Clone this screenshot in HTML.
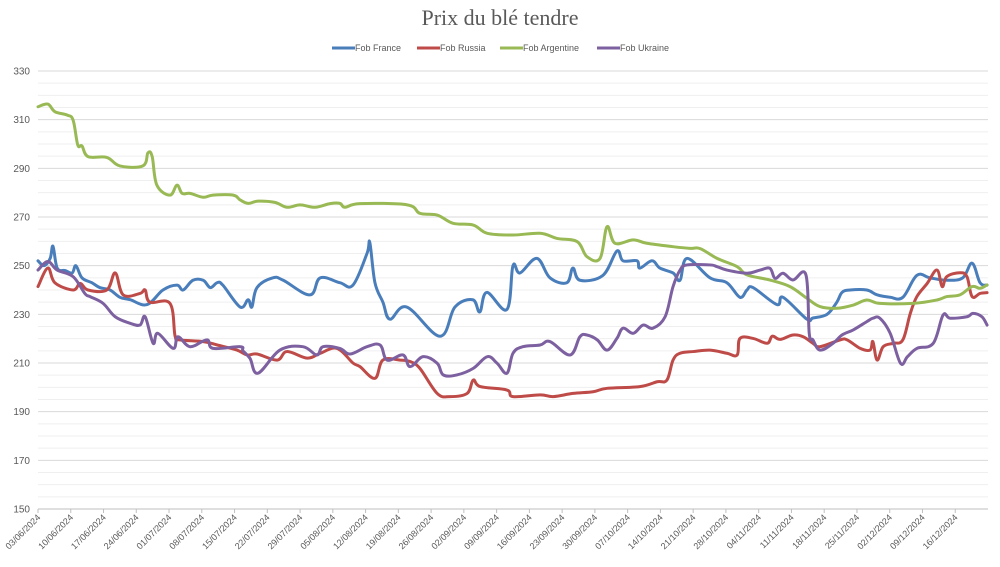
<!DOCTYPE html>
<html><head><meta charset="utf-8"><style>
body{margin:0;background:#fff;width:1000px;height:562px;overflow:hidden;font-family:"Liberation Sans",sans-serif}
</style></head><body>
<svg id="chart" width="1000" height="562" viewBox="0 0 1000 562" xmlns="http://www.w3.org/2000/svg">
<text x="500" y="25" text-anchor="middle" font-family="Liberation Serif, serif" font-size="22" fill="#595959">Prix du blé tendre</text>
<g id="legend" font-size="9" fill="#595959"></g>
<g id="grid"></g>
<g id="yaxis" font-size="10" fill="#595959"></g>
<g id="xaxis" font-size="9" fill="#595959"></g>
<g id="series"></g>
</svg>
<script>
const seriesNames = ["Fob France","Fob Russia","Fob Argentine","Fob Ukraine"];
const seriesColors = ["#4a7ebb","#be4b48","#98b954","#7d60a0"];
const yTicks = [150,170,190,210,230,250,270,290,310,330];
const xTickLabels = ["03/06/2024","10/06/2024","17/06/2024","24/06/2024","01/07/2024","08/07/2024","15/07/2024","22/07/2024","29/07/2024","05/08/2024","12/08/2024","19/08/2024","26/08/2024","02/09/2024","09/09/2024","16/09/2024","23/09/2024","30/09/2024","07/10/2024","14/10/2024","21/10/2024","28/10/2024","04/11/2024","11/11/2024","18/11/2024","25/11/2024","02/12/2024","09/12/2024","16/12/2024"];
const franceDays=[0,1.3,2.6,3.2,4.1,5.8,7.3,8.1,9.4,11.5,13.2,15.4,17.5,19.7,23.3,26.7,29.7,31,33.1,35.3,36.8,38.3,39.5,43.2,44.9,45.7,46.8,50.2,52.4,58.1,60.3,64.5,67.3,70.3,70.9,72,73.7,75.2,78.8,85.9,89.1,92.9,94.4,95.9,100.2,101.5,103,106.6,109.4,113,114.3,115.8,120.7,123.7,125,128,128.6,131.2,132.9,135.7,137.2,138.7,143.6,147.2,150,151.5,152.8,157.9,159.2,164.3,165.6,168.6,170.7,171.8,173.5,177.1,179.3,182.1,184.8,187.8,190.6,194.2,197.6,199.6,201.3,202.8];
const franceVals=[252,250,253,258,249,248,247,250,245,243,241,240,237,236,234,240,242,240,244,244,241,243,242,233,236,233,241,245,244,238,245,243,242,255,259.5,243,235,228,233,221,233,236,231,239,232,250,247,253,245,243,249,244,246,256,252,252,249,252,249,247,244,253,245,243,237,240,241,234,237,228,228.5,230,235,239,240,240,238,237,237,246,245,244,245,251,243,242];
const russiaDays=[0,2.1,3.6,7.5,9,10.7,14.7,16.5,18.2,21.8,22.9,23.9,28.2,29.3,30.3,35.3,38.3,42.5,44.7,46.8,51.1,53.2,57.5,60.3,63.9,67.3,68.8,72,73.7,77.4,79.5,81.6,85.3,88,91.7,93,94.5,100.2,101.5,107.3,110.1,114.3,118.6,121.6,128.6,132.3,134.4,135.7,137.2,140,143.6,147.2,149.4,150,152.8,155.8,156.9,158.6,161.3,163.5,165.6,167.1,171.4,172.9,175.7,177.8,178.4,179.3,180.6,182.7,184.8,186.4,187.8,190,192.1,193.2,194.2,197,198.5,199.6,201.3,202.8];
const russiaVals=[241.4,249,243,240,242.7,240,240,247,238,238.6,240,235,234.5,221,219.5,218.8,217.4,215.3,213.3,213.7,211.2,214.7,212,214,216,210,208.5,203.7,211.2,211.2,210.6,207.8,197.5,196.2,197.5,203,200.3,198.9,196.2,196.9,196.2,197.5,198.2,199.6,200.3,202.3,203,211.2,214,214.7,215.3,214,213.3,220.1,220.1,218.1,221,219.7,221.5,220.8,218.1,216.7,219.5,219.5,216,215.3,218.8,211.2,216.7,218.1,219.5,230.4,237.3,242.7,248.2,241.4,245.5,247.1,245.5,237.3,238.6,238.9];
const argentinaDays=[0,2.1,3.6,6.2,7.5,8.5,9.4,10.7,14.7,17.5,22.4,23.5,24.4,25.4,28.2,29.7,30.8,32.5,35.3,37.4,41.7,43.2,44.9,47,50.6,53.2,56,59.2,62.4,64.5,65.6,68.8,78.9,81.6,85.3,88.7,93,96,101.5,107.3,110.9,115.2,117.3,120.1,121.6,123.3,127.2,130.1,135.7,139.3,141.5,145.1,149.4,151.5,156.4,160.7,164.3,167.1,170.7,174.2,177.1,179.9,187,192.1,194.2,197,199.6,201.3,202.8];
const argentinaVals=[315.3,316.4,313.3,311.9,309.8,299.6,299.2,294.8,294.5,291,291,296.4,294.8,283.1,279,283.1,279.7,279.7,278.1,279,279,277,275.6,276.5,276,274,275,274,275.5,275.6,274,275.5,275,271.5,270.8,267.4,266.7,263.3,262.6,263.3,261.2,259.9,253.7,253,266,259.2,260.6,259.2,257.8,257.1,257,253,249.6,246.2,244.1,241.4,236.6,233.2,232.5,233.8,235.9,234.5,234.5,235.9,237.3,238,241.4,240.7,242.1];
const ukraineDays=[0,2.1,4.1,7.5,10,11.1,13.9,16.5,19.7,21.8,22.9,24.6,25.6,28.9,29.9,32.5,36.1,37.4,43.2,43.8,45.3,47,51.7,56.6,59.6,60.9,64.5,66.7,70.3,73.1,74.6,78,79.5,82.3,85.3,86.6,89.5,93,96,98.1,100.2,101.5,103.6,107.3,109.4,113.7,115.8,117.3,119.5,121.6,123.7,125,127.2,129.3,131.4,134,135.7,137.2,138.7,143.6,145.1,147.2,151.5,154.3,156.4,157.5,159.2,161.3,164.1,164.8,165.6,167.1,169.9,171.8,174.2,177.1,178.4,179.9,182.1,184.3,185.8,187.8,191.3,193.4,194.9,198.5,199.8,201.7,202.8];
const ukraineVals=[248.2,251.7,248.2,245.5,238.6,237.3,234.5,229,226.3,225.6,229,218.1,222.2,216,220.8,216.7,219.5,216,216.7,215,211.9,205.8,215.3,216.7,213.3,216.7,216,213.7,216.7,217.4,211.2,213.3,208.5,212.6,209.9,205.1,205.1,207.8,212.6,209.9,205.8,214,216.7,217.4,218.8,213.3,220.8,221.5,219.5,215.3,220.1,224.3,222.2,225.6,224.3,229,241.4,248.2,250.3,250.3,249.6,248.2,246.9,248.2,248.9,244.8,246.9,244.1,246.2,222.2,219.5,215.3,218.1,221.5,223.6,227,228.4,228.4,222.2,209.9,212.6,216,218.1,229.7,228.4,229,230.4,229,225.6];

const NS="http://www.w3.org/2000/svg";
const X0=38,X1=988,Y150=509,Y330=71,DAYMAX=203;
const xs=d=>X0+d*(X1-X0)/DAYMAX;
const ys=v=>Y150-(v-150)*(Y150-Y330)/180;
function mk(tag,attrs,parent){const e=document.createElementNS(NS,tag);for(const k in attrs)e.setAttribute(k,attrs[k]);parent.appendChild(e);return e;}
const grid=document.getElementById('grid');
for(let v=150;v<=330;v+=5){
  const major=(v-150)%20===0;
  const l=mk('line',{x1:X0,x2:X1,y1:ys(v),y2:ys(v),stroke:major?'#d9d9d9':'#efefef','stroke-width':1},grid);
  
  
}
const ya=document.getElementById('yaxis');
yTicks.forEach(v=>{
  const t=mk('text',{x:30,y:ys(v)+3.5,'text-anchor':'end'},ya);
  t.textContent=v;
  
  
});
const xa=document.getElementById('xaxis');
const ax=mk('line',{x1:X0,x2:X1,y1:Y150,y2:Y150,stroke:'#bfbfbf'},xa);


xTickLabels.forEach((lab,i)=>{
  const x=xs(i*7);
  const tk=mk('line',{x1:x,x2:x,y1:Y150,y2:Y150+4,stroke:'#bfbfbf'},xa);
  
  
  const t=mk('text',{x:x+3,y:Y150+9,'text-anchor':'end',transform:`rotate(-45 ${x+3} ${Y150+9})`},xa);
  t.textContent=lab;
  
  
});
function smooth(pts){
  let d=`M${pts[0][0]},${pts[0][1]}`;
  for(let i=0;i<pts.length-1;i++){
    const p0=pts[Math.max(0,i-1)],p1=pts[i],p2=pts[i+1],p3=pts[Math.min(pts.length-1,i+2)];
    const t=0.18;
    const c1=[p1[0]+(p2[0]-p0[0])*t,p1[1]+(p2[1]-p0[1])*t];
    const c2=[p2[0]-(p3[0]-p1[0])*t,p2[1]-(p3[1]-p1[1])*t];
    d+=` C${c1[0]},${c1[1]} ${c2[0]},${c2[1]} ${p2[0]},${p2[1]}`;
  }
  return d;
}
const allDays=[franceDays,russiaDays,argentinaDays,ukraineDays];
const allVals=[franceVals,russiaVals,argentinaVals,ukraineVals];
const sg=document.getElementById('series');
const slug=["france","russia","argentine","ukraine"];
allDays.forEach((days,s)=>{
  const pts=days.map((d,i)=>[xs(d),ys(allVals[s][i])]);
  const p=mk('path',{d:smooth(pts),fill:'none',stroke:seriesColors[s],'stroke-width':3,'stroke-linejoin':'round','stroke-linecap':'round'},sg);
  
  
});
const lg=document.getElementById('legend');
const legX=[332,417,500,597];
seriesNames.forEach((n,i)=>{
  const l=mk('line',{x1:legX[i],x2:legX[i]+23,y1:48,y2:48,stroke:seriesColors[i],'stroke-width':3},lg);
  
  
  const t=mk('text',{x:legX[i]+23,y:51},lg);
  t.textContent=n;
  
  
});
</script>
</body></html>
